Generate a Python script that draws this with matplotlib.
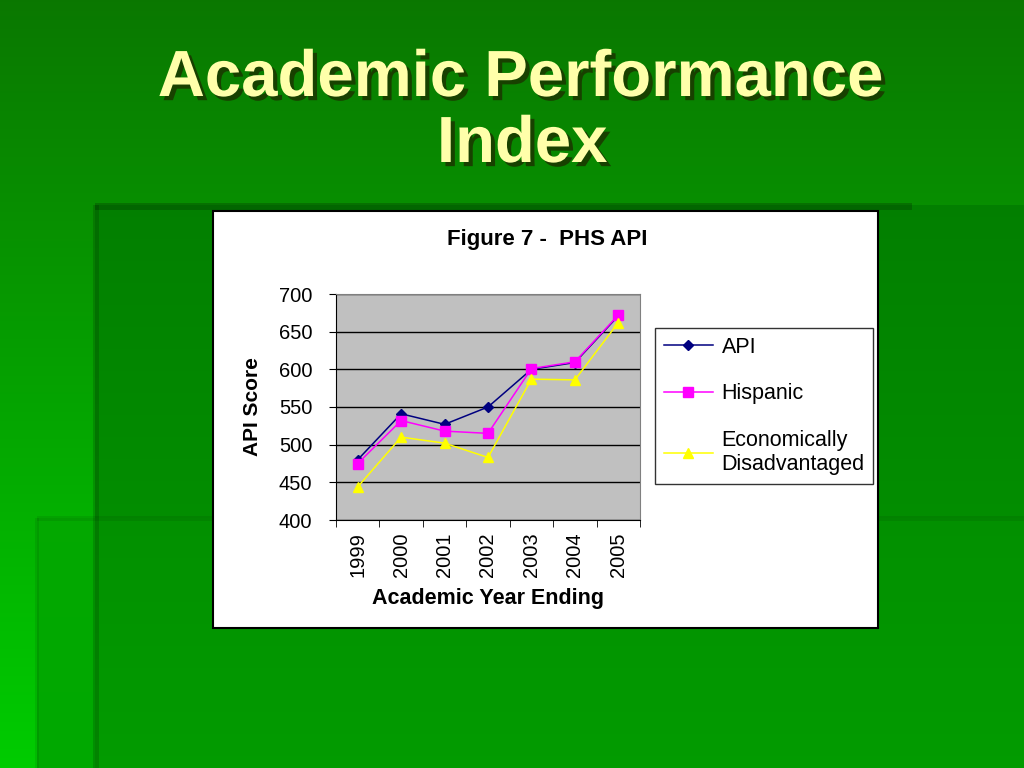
import numpy as np
import matplotlib.pyplot as plt
import matplotlib.patheffects as pe
from matplotlib.patches import Rectangle

# Datos
years = ["1999", "2000", "2001", "2002", "2003", "2004", "2005"]
api = [480, 541, 527, 550, 600, 609, 671]
hispanic = [475, 532, 518, 515, 601, 610, 672]
econ = [444, 510, 502, 483, 587, 586, 662]

W, H = 1024, 768
fig = plt.figure(figsize=(W / 100, H / 100), dpi=100)
plt.rcParams['font.family'] = ['Liberation Sans', 'DejaVu Sans']

# Fondo verde de la diapositiva (degradado + rectangulos)
bg = fig.add_axes([0, 0, 1, 1])
yy = np.linspace(0, 1, H)[:, None] * np.ones((1, W))
img = np.zeros((H, W, 3))
img[..., 0] = 0.04 * (1 - yy)
img[..., 1] = 0.47 + 0.33 * yy
# rectangulo A
ya = (np.arange(205, H) - 205) / (H - 205)
img[205:, 95:, 1] = (0.50 + 0.10 * ya)[:, None]
img[205:, 95:, 0] = 0.01
# rectangulo B
img[518:, 37:95, 1] = 0.66
img[518:, 95:, 1] += 0.01
# bordes oscuros
img[203:210, 95:912] *= 0.80
img[205:, 93:99] *= 0.85
img[516:521, 37:] *= 0.92
img[518:, 35:39] *= 0.92
bg.imshow(np.clip(img, 0, 1), extent=[0, W, H, 0], aspect='auto')
bg.set_xlim(0, W)
bg.set_ylim(H, 0)
bg.axis('off')

# Titulo de la diapositiva
shadow = [pe.withSimplePatchShadow(offset=(3, -3), shadow_rgbFace='#1a3a00', alpha=0.9)]
bg.text(520, 79, "Academic Performance", ha='center', va='center', fontsize=47,
        fontweight='bold', color='#ffffaa', path_effects=shadow)
bg.text(522, 145, "Index", ha='center', va='center', fontsize=47,
        fontweight='bold', color='#ffffaa', path_effects=shadow)

# Caja blanca del grafico
bg.add_patch(Rectangle((213, 211), 665, 417, facecolor='white', edgecolor='black', lw=1.5))
bg.text(547, 240, "Figure 7 -  PHS API", ha='center', va='center', fontsize=16,
        fontweight='bold', color='black')

ax = fig.add_axes([336 / W, 1 - 520 / H, 304 / W, 226 / H])
ax.set_facecolor('#c0c0c0')
x = np.arange(len(years))
ax.plot(x, api, color='#000080', marker='D', markersize=5, lw=1.1, label='API')
ax.plot(x, hispanic, color='#ff00ff', marker='s', markersize=6.5, lw=1.1, label='Hispanic')
ax.plot(x, econ, color='#ffff00', marker='^', markersize=7.5, lw=1.1,
        label='Economically\nDisadvantaged')
ax.set_xlim(-0.5, len(years) - 0.5)
ax.set_ylim(400, 700)
ax.set_yticks(range(400, 701, 50))
ax.yaxis.grid(True, color='black', lw=1)
ax.set_axisbelow(True)
ax.set_xticks(x)
ax.set_xticklabels(years, rotation=90, fontsize=14.5)
ax.set_xticks(np.arange(-0.5, len(years)), minor=True)
ax.tick_params(axis='x', which='major', length=0, pad=9)
ax.tick_params(axis='x', which='minor', length=5, direction='out')
ax.tick_params(axis='y', labelsize=14.5, length=5, direction='out', pad=12)
for s in ['top', 'right']:
    ax.spines[s].set_color('#808080')
ax.spines['left'].set_color('black')
ax.spines['bottom'].set_color('black')
ax.set_ylabel("API Score", fontsize=15, fontweight='bold', labelpad=12)
ax.set_xlabel("Academic Year Ending", fontsize=15.5, fontweight='bold', labelpad=8)

leg = fig.legend(*ax.get_legend_handles_labels(), loc='center left',
                 bbox_to_anchor=(655 / W, 1 - 406 / H), fontsize=15.5,
                 frameon=True, fancybox=False, edgecolor='black', labelspacing=1.2,
                 handlelength=2.3, handletextpad=0.4, borderpad=0.4, borderaxespad=0)
leg.get_frame().set_linewidth(1)

fig.savefig("out.png", dpi=100)
